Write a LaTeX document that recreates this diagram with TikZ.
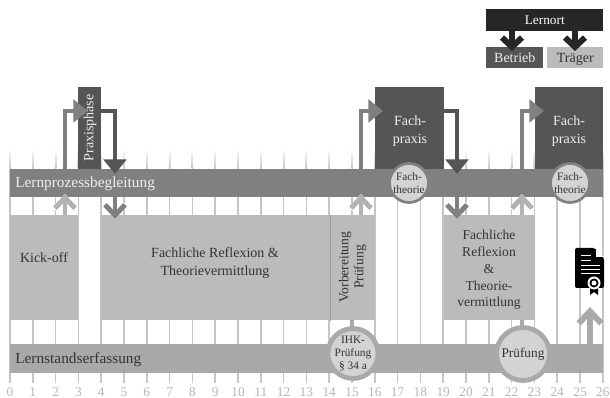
\documentclass[tikz,border=0pt]{standalone}
\usepackage{fontspec}
\setmainfont{Liberation Serif}
\usetikzlibrary{arrows.meta}

\def\pxu{0.75pt}
\definecolor{griddark}{HTML}{C6C6C6}
\definecolor{barprozess}{HTML}{808080}
\definecolor{barstand}{HTML}{A9A9A9}
\definecolor{boxlight}{HTML}{BBBBBB}
\definecolor{boxdark}{HTML}{555555}
\definecolor{circlefill}{HTML}{D3D3D3}
\definecolor{textdark}{HTML}{333333}
\definecolor{textlight}{HTML}{EEEEEE}

\tikzset{
    gridline/.style={griddark, line width=1.1pt},
    block/.style={anchor=north west, inner sep=0pt, align=center},
    lightblock/.style={block, fill=boxlight},
    darkblock/.style={block, fill=boxdark},
    barblock/.style={block, align=left, inner xsep=5*\pxu, text width=583*\pxu, minimum width=593*\pxu, text height=7pt, text depth=0pt, font=\fontsize{11.5}{13}\selectfont},
    label dark/.style={text=textdark, inner sep=0pt, align=center},
    label light/.style={text=textlight, inner sep=0pt, align=center},
    ringlarge/.style={circle, draw=barstand, line width=3.6pt, fill=circlefill, text=textdark, inner sep=0pt, align=center},
    ringsmall/.style={circle, draw=gray, line width=2pt, fill=circlefill, text=textdark, inner sep=0pt, minimum size=39*\pxu, align=center},
    wayout/.style={line width=3.7pt, -{Triangle[length=11pt,width=17pt]}},
    waychev/.style={line width=3.7pt, -{Straight Barb[length=8pt,width=15pt,line width=3.7pt]}},
    wayhalo/.style={white, line width=5pt, -{Straight Barb[length=8pt,width=15pt,line width=5pt]}},
    waycert/.style={barstand, line width=4.5pt, -{Straight Barb[length=9pt,width=17pt,line width=4.5pt]}},
    waylegend/.style={black!85, line width=5pt, -{Straight Barb[length=7pt,width=15pt,line width=4.5pt]}},
}

\begin{document}
\begin{tikzpicture}[x=0.75pt, y=-0.75pt]
\useasboundingbox (0,0) rectangle (610,398);

% time axis
\foreach \i in {0,...,26} {
    \shade[top color=white, bottom color=griddark] ({10+22.8*\i-0.75},148) rectangle ({10+22.8*\i+0.75},169);
    \draw[gridline] ({10+22.8*\i},169) -- ({10+22.8*\i},383);
    \node[text=barstand!85!white, inner sep=0pt, font=\fontsize{10}{12}\selectfont] (num\i) at ({10+22.8*\i},392) {\i};
}

% bars
\node[barblock, fill=barprozess, text=textlight, minimum height=28*\pxu] (prozess) at (10,169) {Lernprozessbegleitung};
\node[barblock, fill=barstand, text=textdark, minimum height=29*\pxu] (stand) at (10,344) {Lernstandserfassung};

% phases on top
\node[darkblock, minimum width=23*\pxu, minimum height=82*\pxu] (praxis) at (78,87) {};
\node[label light, rotate=90, font=\fontsize{10.5}{12}\selectfont] (praxislabel) at (90,128) {Praxisphase};
\node[darkblock, minimum width=69*\pxu, minimum height=82*\pxu] (fach1) at (375,87) {};
\node[label light, font=\fontsize{10.5}{13}\selectfont] (fach1label) at (410,131) {Fach-\\praxis};
\node[darkblock, minimum width=68*\pxu, minimum height=82*\pxu] (fach2) at (535,87) {};
\node[label light, font=\fontsize{10.5}{13}\selectfont] (fach2label) at (569,131) {Fach-\\praxis};

% grey blocks
\node[lightblock, minimum width=68*\pxu, minimum height=105*\pxu] (kick) at (10,215) {};
\node[label dark, font=\fontsize{10.5}{13}\selectfont] (kicklabel) at (44,258) {Kick-off};
\node[lightblock, minimum width=229*\pxu, minimum height=105*\pxu] (reflex1) at (101,215) {};
\node[label dark, font=\fontsize{10.5}{13.5}\selectfont] (reflex1label) at (215,263) {Fachliche Reflexion \&\\Theorievermittlung};
\node[lightblock, minimum width=45*\pxu, minimum height=105*\pxu] (vorb) at (330,215) {};
\node[label dark, rotate=90, font=\fontsize{10.2}{11.25}\selectfont] (vorblabel) at (352.5,267) {Vorbereitung\\Prüfung};
\draw[griddark!80!black, line width=0.5pt] (vorb.north west) -- (vorb.south west);
\node[lightblock, minimum width=91*\pxu, minimum height=105*\pxu] (reflex2) at (444,215) {};
\node[label dark, font=\fontsize{10.2}{12.6}\selectfont] (reflex2label) at (489,270) {Fachliche\\Reflexion\\\&\\Theorie-\\vermittlung};

% stubs to the rings
\coordinate (stubA) at (352,320);
\coordinate (stubB) at (522,320);
\draw[barstand, line width=3pt] (stubA) -- +(0,10);
\draw[barstand, line width=3pt] (stubB) -- +(0,10);

% rings
\node[ringsmall, font=\fontsize{8.5}{9.75}\selectfont] (theorie1) at (409,183) {Fach-\\theorie};
\node[ringsmall, font=\fontsize{8.5}{9.75}\selectfont] (theorie2) at (570,183) {Fach-\\theorie};
\node[ringlarge, minimum size=50*\pxu, font=\fontsize{8.5}{9.4}\selectfont] (ihk) at (353,353.5) {IHK-\\Prüfung\\§ 34 a};
\node[ringlarge, minimum size=53*\pxu, font=\fontsize{10}{12}\selectfont] (pruef) at (523,354) {Prüfung};

% up and over
\coordinate (upA) at (65,169);
\coordinate (upB) at (361,169);
\coordinate (upC) at (522,169);
\coordinate (tipA) at (88,111);
\coordinate (tipB) at (383,111);
\coordinate (tipC) at (544,111);
\draw[wayout, barprozess] (upA) |- (tipA);
\draw[wayout, barprozess] (upB) |- (tipB);
\draw[wayout, barprozess] (upC) |- (tipC);

% over and down
\coordinate (outA) at (101,111);
\coordinate (outB) at (444,111);
\coordinate (downA) at (115,174);
\coordinate (downB) at (457,174);
\draw[wayout, boxdark] (outA) -| (downA);
\draw[wayout, boxdark] (outB) -| (downB);

% small arrows at the first bar
\foreach \x/\nm in {65/a, 361/b, 522/c} {
    \coordinate (baseU\nm) at (\x,215);
    \coordinate (headU\nm) at (\x,194);
    \draw[wayhalo] (baseU\nm) -- (headU\nm);
    \draw[waychev, boxlight!85!gray] (baseU\nm) -- (headU\nm);
}
\foreach \x/\nm in {115/a, 457/b} {
    \coordinate (baseD\nm) at (\x,197);
    \coordinate (headD\nm) at (\x,219);
    \draw[wayhalo] (baseD\nm) -- (headD\nm);
    \draw[waychev, gray] (baseD\nm) -- (headD\nm);
}
\coordinate (certbase) at (590,344);
\coordinate (certhead) at (590,307);
\draw[waycert] (certbase) -- (certhead);

% certificate
\fill[black, rounded corners=1.5pt] (575,248) -- (595,248) -- (604,258) -- (604,288) -- (575,288) -- cycle;
\fill[white] (596,249) -- (596,257) -- (604,257) -- cycle;
\fill[white] (581,255) rectangle (591,256.5);
\fill[white] (581,260) rectangle (591,261.5);
\fill[white] (581,265) rectangle (600,266.5);
\fill[white] (581,269) rectangle (600,270.5);
\fill[white] (581,273) rectangle (600,274.5);
\fill[black] (590,284) -- (590,295) -- (594,292) -- (598,295) -- (598,284) -- cycle;
\fill[white] (594,283) circle (6.5);
\fill[black] (594,283) circle (4.5);
\fill[white] (594,283) circle (2.5);

% legend
\node[block, fill=black!85, text=white, minimum width=117*\pxu, minimum height=22*\pxu, font=\fontsize{10}{12}\selectfont] (lernort) at (486,9) {Lernort};
\node[block, fill=boxdark, text=textlight, minimum width=57*\pxu, minimum height=21*\pxu, text height=7pt, text depth=0pt, font=\fontsize{10.5}{12}\selectfont] (betrieb) at (486,47) {Betrieb};
\node[block, fill=boxlight, text=textdark, minimum width=56*\pxu, minimum height=21*\pxu, text height=7pt, text depth=0pt, font=\fontsize{10.5}{12}\selectfont] (traeger) at (547,47) {Träger};
\coordinate (legA) at (512,30);
\coordinate (legB) at (575,30);
\coordinate (legAend) at (512,51);
\coordinate (legBend) at (575,51);
\draw[waylegend] (legA) -- (legAend);
\draw[waylegend] (legB) -- (legBend);

\end{tikzpicture}
\end{document}
